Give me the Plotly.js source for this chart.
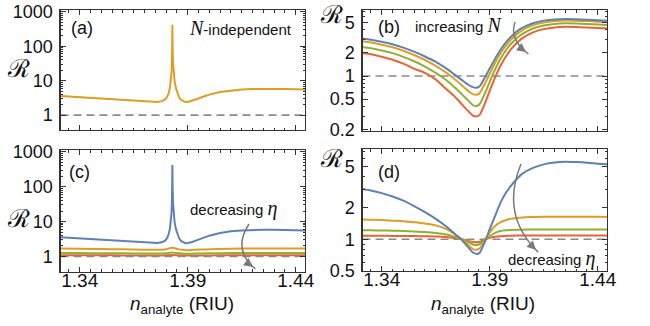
<!DOCTYPE html>
<html>
<head>
<meta charset="utf-8">
<script src="https://cdn.plot.ly/plotly-3.0.1.min.js"></script>
<style>html,body{margin:0;padding:0;background:#fff;}</style>
</head>
<body>
<div id="chart" style="width:650px;height:326px;"></div>
<script>
// ---------- DATA ----------
// Panel (a) and blue curve of (c): N-independent resonance
const nPeak = [1.3311,1.335,1.34,1.345,1.35,1.355,1.36,1.365,1.37,1.373,1.376,1.378,1.3795,1.3805,1.3812,1.3818,1.3822,1.3825,1.3827,1.3828,1.3829,1.3830,1.3832,1.3835,1.3839,1.3845,1.3852,1.386,1.387,1.388,1.389,1.390,1.392,1.395,1.398,1.40,1.405,1.41,1.415,1.42,1.425,1.43,1.435,1.44,1.4443];
const rPeak = [3.58,3.45,3.32,3.18,3.02,2.87,2.72,2.58,2.47,2.42,2.42,2.55,2.85,3.4,4.4,6.5,10,18,40,100,420,100,35,18,10,6.2,4.3,3.3,2.75,2.5,2.4,2.42,2.6,3.05,3.6,3.95,4.7,5.25,5.58,5.78,5.85,5.82,5.75,5.65,5.58];

// Panel (c): other eta values
const nC = [1.3311,1.34,1.35,1.36,1.37,1.376,1.380,1.3829,1.386,1.389,1.393,1.40,1.41,1.42,1.43,1.4443];
const cOrange = [1.68,1.66,1.63,1.60,1.56,1.55,1.62,1.78,1.60,1.52,1.55,1.62,1.67,1.69,1.69,1.69];
const cGreen  = [1.25,1.25,1.24,1.23,1.22,1.21,1.24,1.30,1.23,1.20,1.21,1.23,1.25,1.25,1.25,1.25];
const cRed    = [1.08,1.08,1.08,1.075,1.07,1.07,1.08,1.10,1.08,1.07,1.07,1.075,1.08,1.08,1.08,1.08];

// Panels (b) and (d)
const nB = [1.3311,1.335,1.34,1.345,1.35,1.355,1.36,1.365,1.37,1.374,1.377,1.38,1.3825,1.385,1.3875,1.39,1.3925,1.395,1.3975,1.40,1.4025,1.405,1.41,1.415,1.42,1.425,1.43,1.435,1.44,1.4443];
const bBlue   = [3.1,2.98,2.8,2.6,2.35,2.08,1.8,1.53,1.25,1.03,0.89,0.77,0.71,0.72,0.93,1.25,1.68,2.2,2.75,3.3,3.8,4.25,4.9,5.3,5.5,5.56,5.52,5.45,5.35,5.28];
const bOrange = [2.85,2.74,2.57,2.38,2.14,1.88,1.62,1.36,1.1,0.9,0.76,0.64,0.575,0.585,0.77,1.07,1.48,1.98,2.5,3.02,3.5,3.95,4.6,5.0,5.22,5.3,5.28,5.22,5.14,5.08];
const bGreen  = [2.4,2.31,2.16,1.99,1.78,1.56,1.33,1.1,0.88,0.7,0.58,0.48,0.41,0.42,0.57,0.84,1.22,1.68,2.17,2.66,3.12,3.52,4.18,4.58,4.8,4.88,4.86,4.8,4.72,4.66];
const bRed    = [2.0,1.92,1.79,1.63,1.45,1.25,1.1,0.9,0.67,0.53,0.43,0.35,0.30,0.305,0.42,0.64,0.96,1.36,1.8,2.26,2.7,3.1,3.72,4.1,4.32,4.4,4.38,4.32,4.24,4.2];

const dBlue   = [3.05,2.95,2.78,2.58,2.35,2.08,1.82,1.57,1.32,1.12,0.99,0.84,0.74,0.73,0.92,1.25,1.68,2.25,2.8,3.3,3.8,4.25,4.85,5.25,5.48,5.56,5.52,5.45,5.33,5.25];
const dOrange = [1.55,1.54,1.53,1.51,1.49,1.46,1.42,1.36,1.25,1.11,1.0,0.88,0.80,0.81,0.95,1.16,1.34,1.46,1.53,1.58,1.60,1.62,1.635,1.645,1.65,1.65,1.65,1.65,1.645,1.64];
const dGreen  = [1.22,1.22,1.215,1.21,1.2,1.19,1.175,1.15,1.11,1.05,1.0,0.94,0.885,0.89,0.97,1.07,1.15,1.2,1.22,1.23,1.235,1.238,1.24,1.24,1.24,1.24,1.24,1.24,1.24,1.24];
const dRed    = [1.08,1.08,1.08,1.078,1.076,1.073,1.07,1.065,1.05,1.025,1.0,0.965,0.94,0.94,0.99,1.035,1.06,1.072,1.078,1.082,1.085,1.085,1.085,1.085,1.085,1.085,1.085,1.085,1.085,1.085];

const refX = [1.3311, 1.4443];
const refY = [1, 1];

const xTickVals = [1.34, 1.39, 1.44];
const xTickText = ['1.34', '1.39', '1.44'];
const yTicksAC = [1, 10, 100, 1000];
const yTicksAC_text = ['1', '10', '100', '1000'];
const yTicksB = [0.2, 0.5, 1, 2, 5];
const yTicksB_text = ['0.2', '0.5', '1', '2', '5'];
const yTicksD = [0.5, 1, 2, 5];
const yTicksD_text = ['0.5', '1', '2', '5'];

// ---------- STYLE ----------
const C = {blue:'#5E81B5', orange:'#E19C24', green:'#8FB032', red:'#EB6235'};
const W = 650, H = 326;
const px = (x) => x / W;
const py = (y) => 1 - y / H;

function line(x, y, color, xa, ya, shape) {
  return {x, y, type:'scatter', mode:'lines', xaxis:xa, yaxis:ya,
    line:{color, width:2, shape: shape || 'linear', smoothing: 0.8}, hoverinfo:'skip'};
}
function dashed(xa, ya) {
  return {x:refX, y:refY, type:'scatter', mode:'lines', xaxis:xa, yaxis:ya,
    line:{color:'#8a8a8a', width:1.6, dash:'8px,5px'}, hoverinfo:'skip'};
}

const traces = [
  dashed('x','y'),
  line(nPeak, rPeak, C.orange, 'x', 'y'),
  dashed('x2','y2'),
  line(nB, bRed, C.red, 'x2','y2','spline'),
  line(nB, bGreen, C.green, 'x2','y2','spline'),
  line(nB, bOrange, C.orange, 'x2','y2','spline'),
  line(nB, bBlue, C.blue, 'x2','y2','spline'),
  line(nC, cRed, C.red, 'x3','y3','spline'),
  dashed('x3','y3'),
  line(nC, cGreen, C.green, 'x3','y3','spline'),
  line(nC, cOrange, C.orange, 'x3','y3','spline'),
  line(nPeak, rPeak, C.blue, 'x3','y3'),
  dashed('x4','y4'),
  line(nB, dRed, C.red, 'x4','y4','spline'),
  line(nB, dGreen, C.green, 'x4','y4','spline'),
  line(nB, dOrange, C.orange, 'x4','y4','spline'),
  line(nB, dBlue, C.blue, 'x4','y4','spline'),
];

const frameColor = '#333';
const tickFont = {family:'Liberation Sans, Arial, sans-serif', size:18, color:'#111'};

function logMinor(lo, hi) {
  const v = [];
  for (let e = lo; e <= hi; e++) {
    for (let k = 1; k <= 9; k++) v.push(k * Math.pow(10, e));
  }
  return v;
}

function xAxis(domain, anchor, showLabels) {
  return {domain, anchor, range:[1.3311, 1.4443], tickmode:'array', tickvals:xTickVals, ticktext:xTickText,
    showticklabels: showLabels, ticks:'inside', ticklen:5, tickwidth:1, tickcolor:frameColor,
    mirror:'allticks', showline:true, linecolor:frameColor, linewidth:1.2, showgrid:false, zeroline:false,
    tickfont:{...tickFont, size:19}, ticklabelstandoff:-9,
    minor:{tickmode:'linear', tick0:1.34, dtick:0.005, ticks:'inside', ticklen:2.5, tickwidth:1, tickcolor:frameColor, showgrid:false}};
}
function yAxis(domain, anchor, range, tv, tt, minorVals) {
  return {domain, anchor, type:'log', range, tickmode:'array', tickvals:tv, ticktext:tt,
    ticks:'inside', ticklen:5, tickwidth:1, tickcolor:frameColor,
    mirror:'allticks', showline:true, linecolor:frameColor, linewidth:1.2, showgrid:false, zeroline:false,
    tickfont:tickFont, ticklabelstandoff:3,
    minor:{tickmode:'array', tickvals:minorVals, ticks:'inside', ticklen:2.5, tickwidth:1, tickcolor:frameColor, showgrid:false}};
}

const domLeft = [px(60.5), px(305)];
const domRight = [px(362.5), px(607)];

const layout = {
  width:W, height:H, margin:{l:0, r:0, t:0, b:0},
  paper_bgcolor:'#fff', plot_bgcolor:'#fff', showlegend:false,
  xaxis: xAxis(domLeft, 'y', false),
  yaxis: yAxis([py(130), py(10)], 'x', [-0.43, 3.05], yTicksAC, yTicksAC_text, logMinor(0, 2)),
  xaxis2: xAxis(domRight, 'y2', false),
  yaxis2: yAxis([py(130.7), py(10)], 'x2', [-0.715, 0.863], yTicksB, yTicksB_text, logMinor(-1, 0)),
  xaxis3: xAxis(domLeft, 'y3', true),
  yaxis3: yAxis([py(271.5), py(150)], 'x3', [-0.43, 3.05], yTicksAC, yTicksAC_text, logMinor(0, 2)),
  xaxis4: xAxis(domRight, 'y4', true),
  yaxis4: yAxis([py(271), py(149.3)], 'x4', [-0.305, 0.865], yTicksD, yTicksD_text, logMinor(-1, 0)),
  annotations: [],
  shapes: []
};

const A = layout.annotations;
function txt(x, y, text, size, extra) {
  A.push(Object.assign({xref:'paper', yref:'paper', x:px(x), y:py(y), text, showarrow:false,
    xanchor:'center', yanchor:'middle',
    font:{family:'Liberation Sans, Arial, sans-serif', size:size, color:'#111'}}, extra || {}));
}
// R symbols
const scriptR = '<span style="font-family:DejaVu Serif">ℛ</span>';
txt(18, 68, scriptR, 25);
txt(331, 15, scriptR, 25);
txt(18, 218, scriptR, 25);
txt(331, 158, scriptR, 25);
// panel labels
txt(82, 28, '(a)', 18);
txt(389, 27, '(b)', 18);
txt(79, 172, '(c)', 18);
txt(389, 172, '(d)', 18);
// in-plot texts
const serifI = (s) => '<span style="font-family:Liberation Serif;font-size:20px"><i>' + s + '</i></span>';
txt(240, 28, serifI('N') + '-independent', 15);
txt(459, 25, 'increasing ' + serifI('N'), 15);
txt(234, 208, 'decreasing ' + serifI('η'), 15);
txt(552, 258, 'decreasing ' + serifI('η'), 15);
// axis titles
const xTitle = '<i>n</i><sub>analyte</sub> (RIU)';
txt(182, 305, xTitle, 19);
txt(483, 305, xTitle, 19);

// curved gray arrows
const arrowColor = '#7a7a7a';
function curvedArrow(x0, y0, cx, cy, x1, y1, ax, ay) {
  layout.shapes.push({type:'path', xref:'paper', yref:'paper',
    path:'M ' + px(x0) + ',' + py(y0) + ' Q ' + px(cx) + ',' + py(cy) + ' ' + px(x1 - ax*0.3) + ',' + py(y1 - ay*0.3),
    line:{color:arrowColor, width:1.5}});
  A.push({xref:'paper', yref:'paper', x:px(x1), y:py(y1), ax:ax, ay:ay, axref:'pixel', ayref:'pixel',
    text:'', showarrow:true, arrowhead:2, arrowsize:1.2, arrowwidth:1.5, arrowcolor:arrowColor});
}
curvedArrow(515, 22, 509, 40, 526, 52, -8, -6);
curvedArrow(249, 224, 232, 250, 253, 267, -8, -6);
curvedArrow(521, 164, 500, 215, 536, 250, -7, -7);

Plotly.newPlot('chart', traces, layout, {staticPlot:true, displayModeBar:false});
</script>
</body>
</html>
